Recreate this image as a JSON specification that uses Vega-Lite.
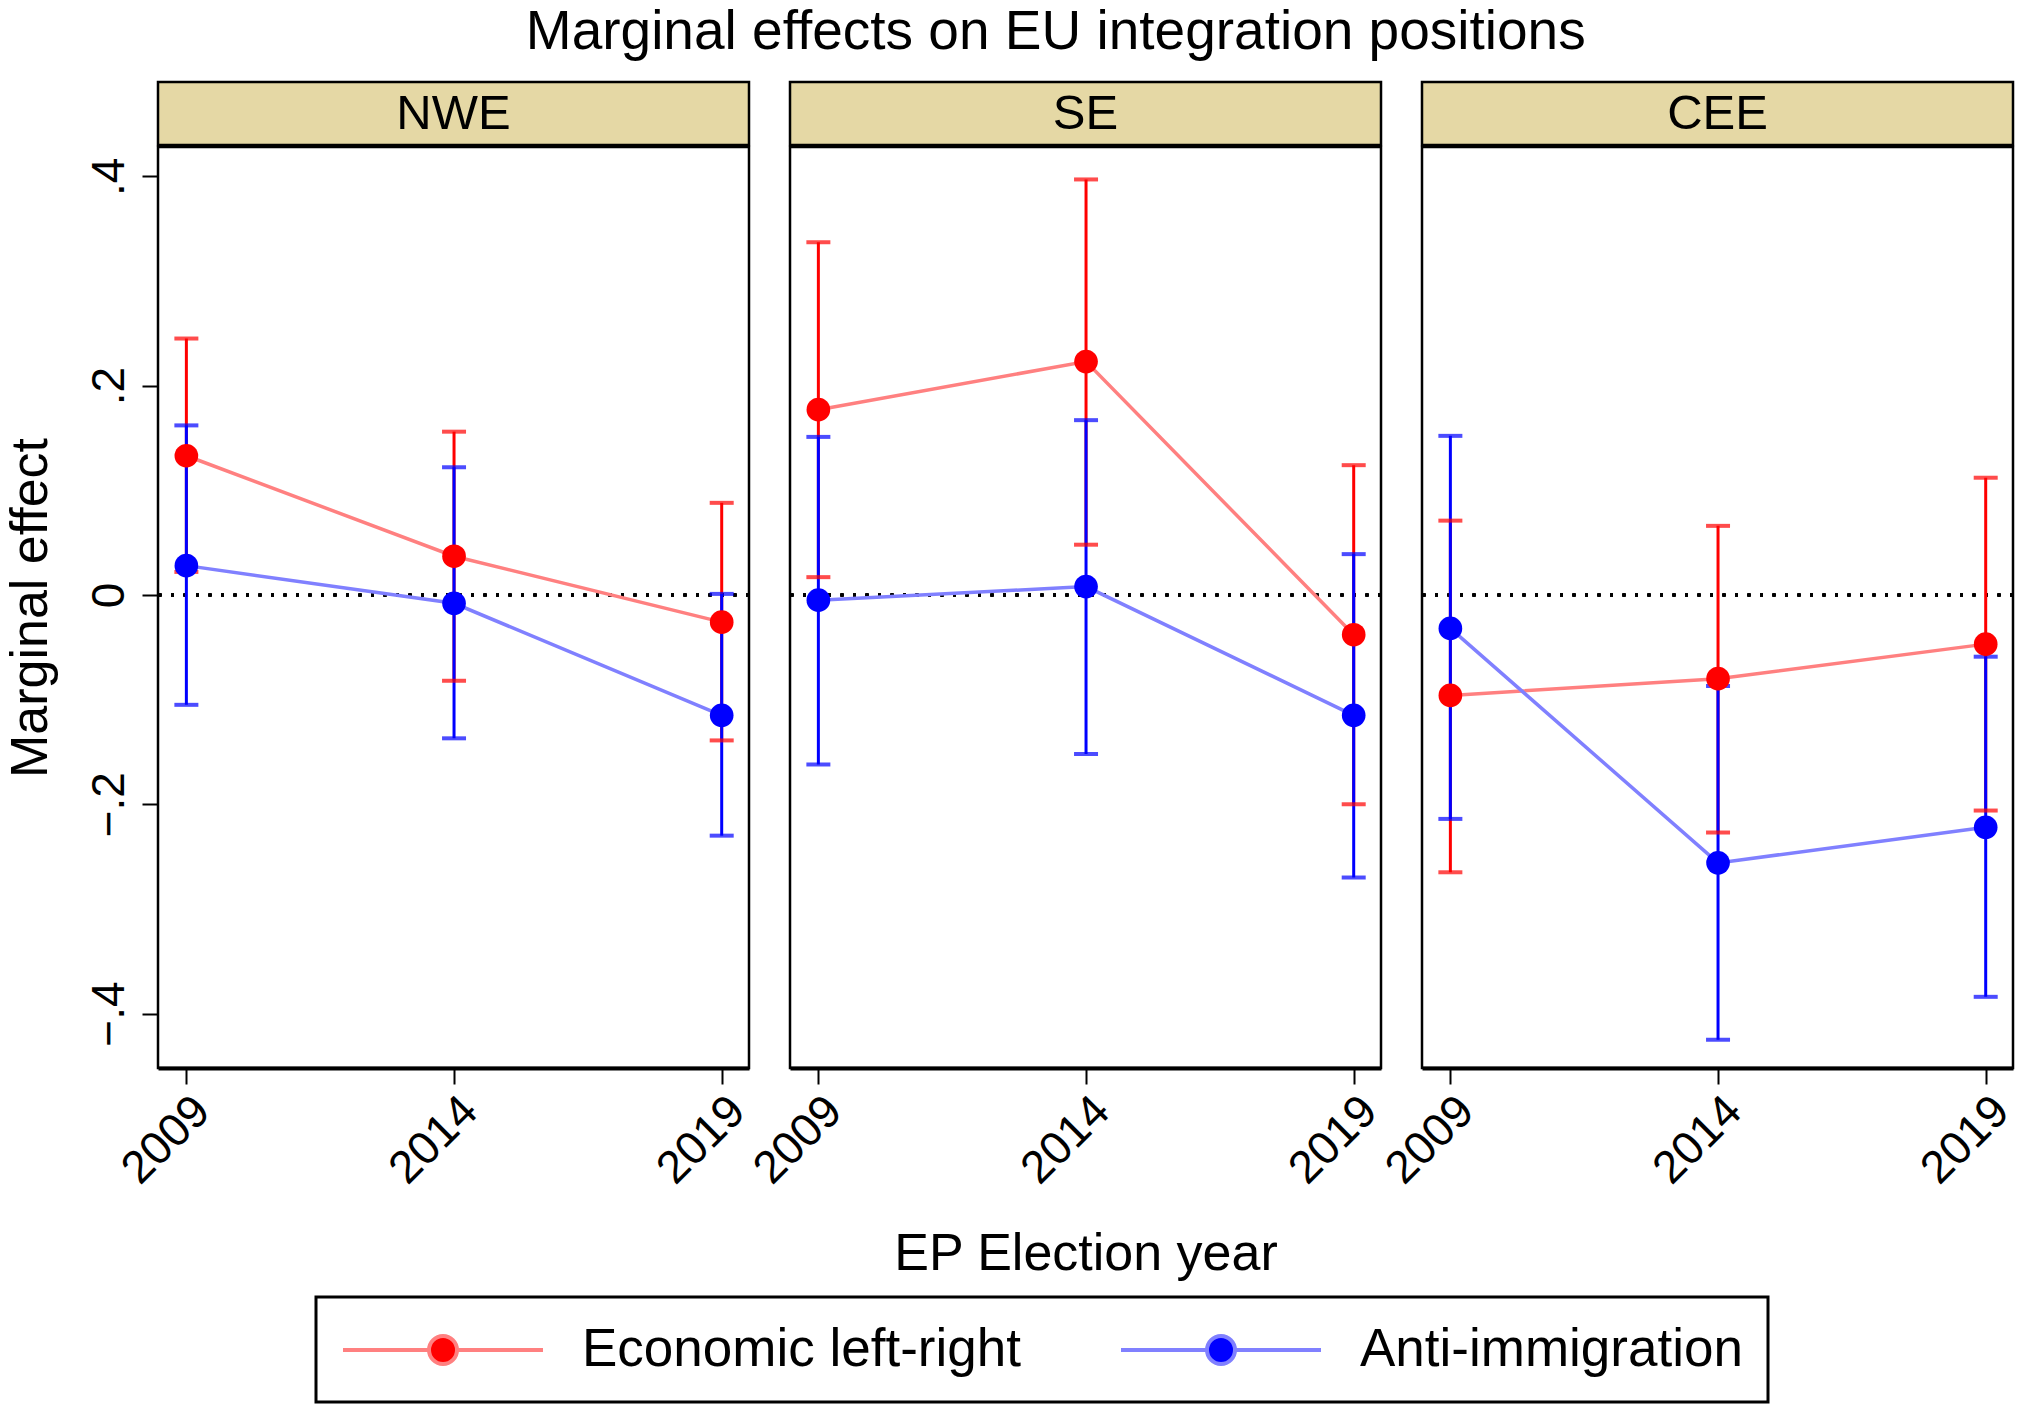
{
  "$schema": "https://vega.github.io/schema/vega-lite/v6.json",
  "padding": {"left": 4, "top": 4, "right": 5, "bottom": 5},
  "background": "white",
  "title": {
    "text": "Marginal effects on EU integration positions",
    "font": "Liberation Sans",
    "fontSize": 55,
    "fontWeight": "normal",
    "color": "black",
    "anchor": "middle",
    "dx": 45,
    "offset": 20
  },
  "datasets": {
    "est": [
      {"region": "NWE", "year": 2009, "measure": "Economic left-right", "est": 0.133, "lo": 0.022, "hi": 0.245},
      {"region": "NWE", "year": 2014, "measure": "Economic left-right", "est": 0.037, "lo": -0.082, "hi": 0.156},
      {"region": "NWE", "year": 2019, "measure": "Economic left-right", "est": -0.026, "lo": -0.139, "hi": 0.088},
      {"region": "NWE", "year": 2009, "measure": "Anti-immigration", "est": 0.028, "lo": -0.105, "hi": 0.162},
      {"region": "NWE", "year": 2014, "measure": "Anti-immigration", "est": -0.008, "lo": -0.137, "hi": 0.122},
      {"region": "NWE", "year": 2019, "measure": "Anti-immigration", "est": -0.115, "lo": -0.230, "hi": 0.001},
      {"region": "SE", "year": 2009, "measure": "Economic left-right", "est": 0.177, "lo": 0.017, "hi": 0.337},
      {"region": "SE", "year": 2014, "measure": "Economic left-right", "est": 0.223, "lo": 0.048, "hi": 0.397},
      {"region": "SE", "year": 2019, "measure": "Economic left-right", "est": -0.038, "lo": -0.200, "hi": 0.124},
      {"region": "SE", "year": 2009, "measure": "Anti-immigration", "est": -0.005, "lo": -0.162, "hi": 0.151},
      {"region": "SE", "year": 2014, "measure": "Anti-immigration", "est": 0.008, "lo": -0.152, "hi": 0.167},
      {"region": "SE", "year": 2019, "measure": "Anti-immigration", "est": -0.115, "lo": -0.270, "hi": 0.039},
      {"region": "CEE", "year": 2009, "measure": "Economic left-right", "est": -0.096, "lo": -0.265, "hi": 0.071},
      {"region": "CEE", "year": 2014, "measure": "Economic left-right", "est": -0.080, "lo": -0.227, "hi": 0.066},
      {"region": "CEE", "year": 2019, "measure": "Economic left-right", "est": -0.047, "lo": -0.206, "hi": 0.112},
      {"region": "CEE", "year": 2009, "measure": "Anti-immigration", "est": -0.032, "lo": -0.214, "hi": 0.152},
      {"region": "CEE", "year": 2014, "measure": "Anti-immigration", "est": -0.256, "lo": -0.425, "hi": -0.087},
      {"region": "CEE", "year": 2019, "measure": "Anti-immigration", "est": -0.222, "lo": -0.384, "hi": -0.059}
    ],
    "regions": [
      {"region": "NWE"},
      {"region": "SE"},
      {"region": "CEE"}
    ]
  },
  "vconcat": [
    {
      "data": {"name": "regions"},
      "facet": {
        "column": {"field": "region", "type": "nominal", "sort": ["NWE", "SE", "CEE"], "title": null, "header": {"labels": false, "labelPadding": 0, "titlePadding": 0}}
      },
      "spacing": 41,
      "bounds": "flush",
      "spec": {
        "width": 591,
        "height": 63,
        "layer": [
          {
            "mark": {"type": "rect", "fill": "#E5D8A5", "stroke": "black", "strokeWidth": 2.5}
          },
          {
            "mark": {"type": "text", "font": "Liberation Sans", "fontSize": 49, "baseline": "middle", "align": "center", "color": "black"},
            "encoding": {"text": {"field": "region", "type": "nominal"}}
          }
        ]
      }
    },
    {
      "data": {"name": "est"},
      "facet": {
        "column": {
          "field": "region",
          "type": "nominal",
          "sort": ["NWE", "SE", "CEE"],
          "title": "EP Election year",
          "header": {
            "labels": false,
            "labelPadding": 0,
            "titleOrient": "bottom",
            "titleFont": "Liberation Sans",
            "titleFontSize": 52,
            "titleFontWeight": "normal",
            "titleColor": "black",
            "titlePadding": 26
          }
        }
      },
      "spacing": 41,
      "bounds": "flush",
      "spec": {
        "width": 591,
        "height": 921,
        "encoding": {
          "x": {
            "field": "year",
            "type": "quantitative",
            "title": null,
            "scale": {"domain": [2008.47, 2019.51], "nice": false, "zero": false},
            "axis": {"values": [2009, 2014, 2019], "format": "d", "labelAngle": -45, "grid": false}
          },
          "y": {
            "field": "est",
            "type": "quantitative",
            "title": "Marginal effect",
            "scale": {"domain": [-0.452, 0.428], "nice": false, "zero": false},
            "axis": {
              "values": [-0.4, -0.2, 0, 0.2, 0.4],
              "labelExpr": "datum.value == 0 ? '0' : replace(format(datum.value, '.1f'), '0.', '.')",
              "labelAngle": -90,
              "grid": false
            }
          }
        },
        "layer": [
          {
            "mark": {"type": "rule", "color": "black", "strokeWidth": 3, "strokeDash": [3, 9.5]},
            "encoding": {"y": {"datum": 0}, "x": null}
          },
          {
            "mark": {"type": "rule", "strokeWidth": 3},
            "encoding": {
              "y": {"field": "lo", "type": "quantitative"},
              "y2": {"field": "hi"},
              "color": {"field": "measure", "type": "nominal", "scale": {"domain": ["Anti-immigration", "Economic left-right"], "range": ["#0000FF", "#FF0000"]}, "legend": null}
            }
          },
          {
            "mark": {"type": "tick", "orient": "horizontal", "size": 24, "thickness": 4},
            "encoding": {
              "y": {"field": "lo", "type": "quantitative"},
              "color": {"field": "measure", "type": "nominal", "legend": null}
            }
          },
          {
            "mark": {"type": "tick", "orient": "horizontal", "size": 24, "thickness": 4},
            "encoding": {
              "y": {"field": "hi", "type": "quantitative"},
              "color": {"field": "measure", "type": "nominal", "legend": null}
            }
          },
          {
            "mark": {"type": "line", "strokeWidth": 3.5},
            "encoding": {
              "stroke": {
                "field": "measure",
                "type": "nominal",
                "scale": {"domain": ["Economic left-right", "Anti-immigration"], "range": ["#FF8080", "#8080FF"]},
                "legend": {
                  "title": null,
                  "orient": "none",
                  "direction": "horizontal",
                  "legendX": 158,
                  "legendY": 1215,
                  "symbolType": "M-1,0H2.308M3.385,0H6.692M2.308,0A0.538,0.538 0 1,0 3.385,0A0.538,0.538 0 1,0 2.308,0Z",
                  "symbolSize": 2704,
                  "symbolStrokeWidth": 4,
                  "labelFont": "Liberation Sans",
                  "labelFontSize": 53,
                  "labelColor": "black",
                  "labelLimit": 0,
                  "labelOffset": 185,
                  "columnPadding": 92,
                  "padding": 25,
                  "strokeColor": "black",
                  "encode": {"legend": {"update": {"strokeWidth": {"value": 3}}}}
                }
              }
            }
          },
          {
            "mark": {"type": "circle", "size": 560, "opacity": 1},
            "encoding": {
              "fill": {
                "field": "measure",
                "type": "nominal",
                "scale": {"domain": ["Economic left-right", "Anti-immigration"], "range": ["#FF0000", "#0000FF"]},
                "legend": {
                  "title": null,
                  "orient": "none",
                  "direction": "horizontal",
                  "legendX": 158,
                  "legendY": 1215,
                  "symbolType": "M-1,0H2.308M3.385,0H6.692M2.308,0A0.538,0.538 0 1,0 3.385,0A0.538,0.538 0 1,0 2.308,0Z",
                  "symbolSize": 2704,
                  "symbolStrokeWidth": 4,
                  "labelFont": "Liberation Sans",
                  "labelFontSize": 53,
                  "labelColor": "black",
                  "labelLimit": 0,
                  "labelOffset": 185,
                  "columnPadding": 92,
                  "padding": 25,
                  "strokeColor": "black",
                  "encode": {"legend": {"update": {"strokeWidth": {"value": 3}}}}
                }
              }
            }
          }
        ]
      }
    }
  ],
  "spacing": -5,
  "config": {
    "font": "Liberation Sans",
    "view": {"stroke": "black", "strokeWidth": 2.5},
    "axis": {
      "labelFont": "Liberation Sans",
      "labelFontSize": 46,
      "labelColor": "black",
      "titleFont": "Liberation Sans",
      "titleFontSize": 52,
      "titleFontWeight": "normal",
      "titleColor": "black",
      "tickColor": "black",
      "tickWidth": 2,
      "tickSize": 16,
      "domainColor": "black"
    },
    "axisY": {"domain": false, "labelPadding": 9, "titlePadding": 29},
    "axisX": {"domain": true, "domainWidth": 4, "labelPadding": 4}
  }
}
